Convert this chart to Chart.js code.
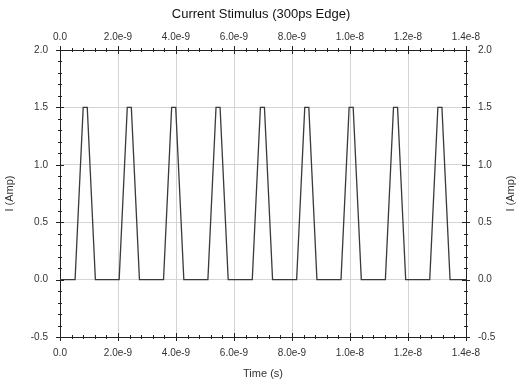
<!DOCTYPE html>
<html>
<head>
<meta charset="utf-8">
<script src="https://cdn.jsdelivr.net/npm/chart.js@4/dist/chart.umd.min.js"></script>
<style>
    html, body { margin: 0; padding: 0; background: #ffffff; }
    #wrap { width: 522px; height: 387px; }
</style>
</head>
<body>
<div id="wrap"><canvas id="chart-stimulus" width="522" height="387"></canvas></div>
<script>
// Datos (tiempo en segundos, corriente en amperios)
const tiempos = [
    0, 0.52e-9, 0.80e-9, 0.94e-9, 1.22e-9,
    2.04e-9, 2.32e-9, 2.46e-9, 2.74e-9,
    3.57e-9, 3.85e-9, 3.99e-9, 4.27e-9,
    5.10e-9, 5.38e-9, 5.52e-9, 5.80e-9,
    6.63e-9, 6.91e-9, 7.05e-9, 7.33e-9,
    8.16e-9, 8.44e-9, 8.58e-9, 8.86e-9,
    9.69e-9, 9.97e-9, 10.11e-9, 10.39e-9,
    11.22e-9, 11.50e-9, 11.64e-9, 11.92e-9,
    12.75e-9, 13.03e-9, 13.17e-9, 13.45e-9,
    14.0e-9
];
const corriente = [
    0, 0, 1.5, 1.5, 0,
    0, 1.5, 1.5, 0,
    0, 1.5, 1.5, 0,
    0, 1.5, 1.5, 0,
    0, 1.5, 1.5, 0,
    0, 1.5, 1.5, 0,
    0, 1.5, 1.5, 0,
    0, 1.5, 1.5, 0,
    0, 1.5, 1.5, 0,
    0
];

// Marcas de los ejes
const ticksTiempo = [0, 2e-9, 4e-9, 6e-9, 8e-9, 1e-8, 1.2e-8, 1.4e-8];
const etiquetasTiempo = ['0.0', '2.0e-9', '4.0e-9', '6.0e-9', '8.0e-9', '1.0e-8', '1.2e-8', '1.4e-8'];
const ticksCorriente = [-0.5, 0, 0.5, 1.0, 1.5, 2.0];
const etiquetasCorriente = ['-0.5', '0.0', '0.5', '1.0', '1.5', '2.0'];
const pasoMenorTiempo = 0.4e-9;
const pasoMenorCorriente = 0.1;
const tituloCorriente = 'I (Amp)';

const FUENTE = 'Liberation Sans, Arial, sans-serif';
const COLOR_TEXTO = '#333333';
const COLOR_EJE = '#222222';

function ejeTiempo(posicion, alto, conRejilla, padding) {
    return {
        type: 'linear',
        axis: 'x',
        position: posicion,
        min: 0,
        max: 1.4e-8,
        afterBuildTicks: s => { s.ticks = ticksTiempo.map(v => ({ value: v })); },
        afterFit: s => { s.height = alto; },
        ticks: {
            callback: (v, i) => etiquetasTiempo[i],
            autoSkip: false,
            maxRotation: 0,
            padding: padding,
            color: COLOR_TEXTO,
            font: { family: FUENTE, size: 10 }
        },
        grid: { drawOnChartArea: conRejilla, drawTicks: false, color: '#d4d4d4', lineWidth: 1 },
        border: { display: true, color: COLOR_EJE, width: 1 }
    };
}

function ejeCorriente(posicion, ancho, conRejilla, padding) {
    return {
        type: 'linear',
        axis: 'y',
        position: posicion,
        min: -0.5,
        max: 2.0,
        afterBuildTicks: s => { s.ticks = ticksCorriente.map(v => ({ value: v })); },
        afterFit: s => { s.width = ancho; },
        ticks: {
            callback: (v, i) => etiquetasCorriente[i],
            autoSkip: false,
            padding: padding,
            color: COLOR_TEXTO,
            font: { family: FUENTE, size: 10 }
        },
        grid: { drawOnChartArea: conRejilla, drawTicks: false, color: '#d4d4d4', lineWidth: 1 },
        border: { display: true, color: COLOR_EJE, width: 1 }
    };
}

// Marcas mayores (cruzando el eje) y menores en los cuatro lados,
// y el titulo del eje derecho (se lee de abajo hacia arriba, como el izquierdo)
const marcasEjes = {
    id: 'marcasEjes',
    afterDraw(chart) {
        const ctx = chart.ctx;
        const a = chart.chartArea;
        const sx = chart.scales.x;
        const sy = chart.scales.y;
        ctx.save();
        ctx.strokeStyle = COLOR_EJE;
        ctx.lineWidth = 1;
        ctx.beginPath();
        const nX = Math.round(1.4e-8 / pasoMenorTiempo);
        for (let i = 0; i <= nX; i++) {
            const v = i * pasoMenorTiempo;
            const mayor = i % 5 === 0;
            const px = Math.round(sx.getPixelForValue(v)) + 0.5;
            const l = mayor ? 4 : 2;
            ctx.moveTo(px, a.top - l); ctx.lineTo(px, a.top + l);
            ctx.moveTo(px, a.bottom - l); ctx.lineTo(px, a.bottom + l);
        }
        const nY = Math.round(2.5 / pasoMenorCorriente);
        for (let i = 0; i <= nY; i++) {
            const v = -0.5 + i * pasoMenorCorriente;
            const mayor = i % 5 === 0;
            const py = Math.round(sy.getPixelForValue(v)) + 0.5;
            const l = mayor ? 4 : 2;
            ctx.moveTo(a.left - l, py); ctx.lineTo(a.left + l, py);
            ctx.moveTo(a.right - l, py); ctx.lineTo(a.right + l, py);
        }
        ctx.stroke();

        // titulo eje derecho
        ctx.translate(chart.width - 11, (a.top + a.bottom) / 2);
        ctx.rotate(-Math.PI / 2);
        ctx.fillStyle = COLOR_TEXTO;
        ctx.font = '11px ' + FUENTE;
        ctx.textAlign = 'center';
        ctx.textBaseline = 'middle';
        ctx.fillText(tituloCorriente, 0, 0);
        ctx.restore();
    }
};

const ctxStim = document.getElementById('chart-stimulus');
const chartStim = new Chart(ctxStim, {
    type: 'scatter',
    data: {
        datasets: [{
            label: 'I',
            data: tiempos.map((t, i) => ({ x: t, y: corriente[i] })),
            showLine: true,
            borderColor: '#3a3a3a',
            borderWidth: 1.3,
            pointRadius: 0,
            tension: 0,
            xAxisID: 'x',
            yAxisID: 'y'
        }]
    },
    options: {
        responsive: false,
        animation: false,
        devicePixelRatio: 1,
        layout: { padding: 0 },
        plugins: {
            legend: { display: false },
            tooltip: { enabled: false },
            title: {
                display: true,
                text: 'Current Stimulus (300ps Edge)',
                color: '#111111',
                font: { family: FUENTE, size: 13, weight: 'normal' },
                padding: { top: 7, bottom: 4 }
            }
        },
        scales: {
            x: Object.assign(ejeTiempo('bottom', 50, true, 10), {
                title: {
                    display: true, text: 'Time (s)', color: COLOR_TEXTO,
                    font: { family: FUENTE, size: 11 }, padding: { top: 0, bottom: 6 }
                }
            }),
            x2: ejeTiempo('top', 23.4, false, 7),
            y: Object.assign(ejeCorriente('left', 60, true, 12), {
                title: {
                    display: true, text: tituloCorriente, color: COLOR_TEXTO,
                    font: { family: FUENTE, size: 11 }, padding: { top: 3, bottom: 0 }
                }
            }),
            y2: ejeCorriente('right', 56, false, 12)
        }
    },
    plugins: [marcasEjes]
});
</script>
</body>
</html>
